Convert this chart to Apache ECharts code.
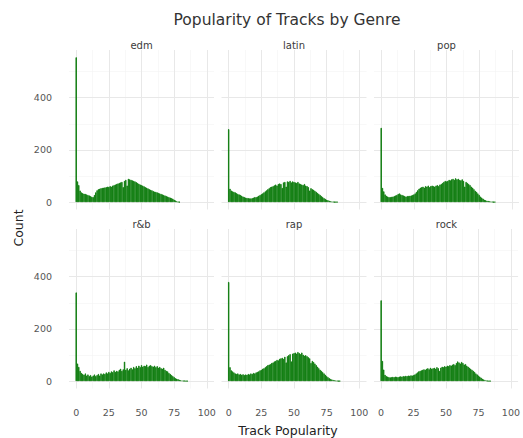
<!DOCTYPE html>
<html>
<head>
<meta charset="utf-8">
<script src="https://cdn.jsdelivr.net/npm/echarts@6/dist/echarts.min.js"></script>
<style>
  html, body { margin: 0; padding: 0; background: #ffffff; }
  #chart { width: 523px; height: 438px; }
</style>
</head>
<body>
<div id="chart"></div>
<script>
// Facet labels, one panel per genre (row by row)
const genres = ['edm', 'latin', 'pop', 'r&b', 'rap', 'rock'];

// Track counts per popularity bin (binwidth 1, bin index = popularity 0, 1, 2, ...)
const edm = [
  555, 80, 66, 45, 38, 35, 33, 32, 30, 28, 26,
  24, 21, 20, 28, 38, 46, 50, 52, 54, 55,
  56, 57, 58, 60, 59, 62, 60, 64, 66, 68,
  70, 72, 74, 76, 78, 58, 82, 86, 64, 90,
  88, 86, 84, 82, 80, 77, 74, 71, 68, 66,
  64, 61, 58, 56, 53, 50, 48, 46, 43, 41,
  40, 38, 36, 34, 32, 30, 28, 26, 24, 22,
  20, 18, 16, 14, 10, 7, 4, 2, 1
];
const latin = [
  280, 52, 45, 42, 40, 38, 35, 32, 30, 28, 25,
  22, 20, 18, 17, 16, 15, 15, 16, 18, 20,
  20, 22, 25, 28, 31, 34, 38, 42, 46, 50,
  54, 58, 60, 62, 65, 68, 64, 70, 72, 70,
  55, 76, 78, 60, 80, 78, 82, 76, 80, 78,
  76, 74, 78, 72, 70, 68, 66, 70, 64, 62,
  58, 45, 54, 50, 48, 44, 40, 36, 32, 28,
  24, 20, 16, 13, 10, 8, 6, 4, 3, 2,
  1, 1, 1
];
const pop = [
  285, 55, 42, 30, 25, 22, 20, 20, 21, 22, 24,
  26, 28, 32, 34, 30, 28, 26, 24, 22, 24,
  24, 25, 26, 28, 30, 34, 40, 46, 52, 56,
  58, 60, 56, 62, 60, 64, 58, 62, 64, 62,
  60, 64, 66, 62, 68, 70, 74, 78, 82, 80,
  82, 86, 84, 88, 90, 86, 92, 88, 90, 86,
  84, 88, 82, 60, 78, 74, 70, 66, 60, 56,
  50, 44, 40, 34, 28, 22, 18, 14, 10, 8,
  6, 5, 4, 3, 2, 1, 1
];
const rnb = [
  340, 68, 55, 40, 32, 28, 25, 30, 22, 26, 20,
  24, 18, 22, 26, 20, 24, 28, 22, 30, 26,
  30, 28, 34, 30, 36, 32, 38, 35, 42, 36,
  40, 38, 44, 48, 40, 46, 75, 44, 50, 42,
  48, 52, 46, 55, 50, 58, 52, 60, 54, 62,
  56, 60, 58, 64, 55, 60, 62, 58, 56, 60,
  54, 58, 52, 55, 50, 48, 52, 44, 40, 38,
  32, 28, 24, 20, 16, 12, 10, 8, 6, 4,
  3, 2, 2, 1, 1
];
const rap = [
  380, 54, 42, 38, 34, 30, 28, 30, 26, 28, 25,
  27, 24, 26, 25, 28, 26, 30, 28, 32, 30,
  34, 36, 38, 42, 44, 48, 50, 54, 58, 62,
  64, 66, 70, 72, 76, 78, 82, 80, 86, 88,
  90, 86, 94, 72, 96, 100, 104, 76, 106, 108,
  110, 106, 112, 108, 104, 110, 102, 98, 100, 96,
  92, 88, 70, 78, 74, 68, 62, 56, 50, 44,
  40, 35, 30, 25, 20, 16, 12, 9, 7, 5,
  4, 3, 2, 1, 1
];
const rock = [
  310, 78, 45, 25, 20, 18, 16, 15, 16, 17, 16,
  18, 17, 16, 18, 19, 18, 20, 19, 21, 20,
  22, 21, 23, 22, 24, 26, 30, 34, 38, 40,
  42, 44, 46, 44, 48, 50, 46, 52, 48, 50,
  52, 48, 54, 50, 40, 52, 56, 54, 58, 56,
  60, 58, 62, 60, 64, 66, 62, 70, 76, 72,
  68, 74, 70, 64, 66, 60, 56, 52, 48, 44,
  40, 36, 30, 26, 22, 18, 14, 10, 7, 5,
  3, 2, 1, 1
];
const counts = [edm, latin, pop, rnb, rap, rock];

// Tick labels and grid positions on both scales
const xTicks = [0, 25, 50, 75, 100];
const xMinor = [12.5, 37.5, 62.5, 87.5];
const yTicks = [0, 200, 400];
const yMinor = [100, 300, 500];

// Panel geometry (pixels)
const FONT = 'DejaVu Sans';
const colLeft = [69, 221.5, 374];
const rowTop = [50, 229];
const panelW = 145;
const panelH = 159.5;
const barColor = '#077807';

const grids = [], xAxes = [], yAxes = [], series = [], texts = [];

genres.forEach((g, i) => {
  const row = Math.floor(i / 3), col = i % 3;
  grids.push({ left: colLeft[col], top: rowTop[row], width: panelW, height: panelH });

  xAxes.push({
    type: 'value', gridIndex: i, min: -5.5, max: 105.5,
    axisLine: { show: false }, axisTick: { show: false }, splitLine: { show: false },
    axisLabel: {
      show: row === 1, customValues: xTicks, margin: 19,
      color: '#555555', fontSize: 9.5, fontFamily: FONT
    }
  });
  yAxes.push({
    type: 'value', gridIndex: i, min: -27.75, max: 582.75,
    axisLine: { show: false }, axisTick: { show: false }, splitLine: { show: false },
    axisLabel: {
      show: col === 0, customValues: yTicks, margin: 17,
      color: '#555555', fontSize: 9.5, fontFamily: FONT
    }
  });

  // panel grid lines, drawn beneath the bars
  const major = { color: '#e8e8e8', width: 1, type: 'solid' };
  const minor = { color: '#f3f3f3', width: 0.6, type: 'solid' };
  const gridLines = []
    .concat(xMinor.map(v => ({ xAxis: v, lineStyle: minor })))
    .concat(yMinor.map(v => ({ yAxis: v, lineStyle: minor })))
    .concat(xTicks.map(v => ({ xAxis: v, lineStyle: major })))
    .concat(yTicks.map(v => ({ yAxis: v, lineStyle: major })));

  series.push({
    type: 'bar', name: g, xAxisIndex: i, yAxisIndex: i,
    data: counts[i].map((c, k) => [k, c]),
    barWidth: '100%', barCategoryGap: '0%',
    itemStyle: { color: barColor, borderColor: barColor, borderWidth: 0.8 },
    z: 2,
    markLine: {
      silent: true, symbol: 'none', z: 1, animation: false,
      label: { show: false }, emphasis: { disabled: true },
      data: gridLines
    }
  });

  // facet strip label
  texts.push({
    type: 'text', x: colLeft[col] + panelW / 2, y: rowTop[row] - 5,
    style: { text: g, fill: '#3a3a3a', font: '10px "' + FONT + '"', align: 'center', verticalAlign: 'middle' }
  });
});

// chart title and axis titles
texts.push({
  type: 'text', x: 287, y: 20,
  style: { text: 'Popularity of Tracks by Genre', fill: '#333333', font: '15.5px "' + FONT + '"', align: 'center', verticalAlign: 'middle' }
});
texts.push({
  type: 'text', x: 288, y: 430,
  style: { text: 'Track Popularity', fill: '#222222', font: '12.5px "' + FONT + '"', align: 'center', verticalAlign: 'middle' }
});
texts.push({
  type: 'text', x: 18, y: 228, rotation: Math.PI / 2,
  style: { text: 'Count', fill: '#222222', font: '12.5px "' + FONT + '"', align: 'center', verticalAlign: 'middle' }
});

const chart = echarts.init(document.getElementById('chart'), null, { renderer: 'svg' });
chart.setOption({
  animation: false,
  backgroundColor: '#ffffff',
  grid: grids,
  xAxis: xAxes,
  yAxis: yAxes,
  series: series,
  graphic: texts
});
</script>
</body>
</html>
